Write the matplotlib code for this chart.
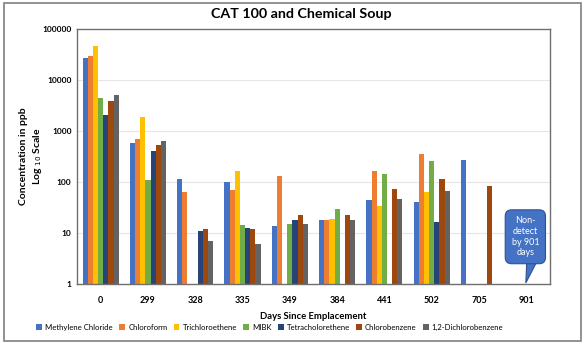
import numpy as np
import matplotlib
matplotlib.use("Agg")
import matplotlib.pyplot as plt
from matplotlib.patches import Rectangle, Polygon

plt.rcParams['font.family'] = ['Lato', 'DejaVu Sans']

nan = np.nan
days = ['0', '299', '328', '335', '349', '384', '441', '502', '705', '901']
series = ['Methylene Chloride', 'Chloroform', 'Trichloroethene', 'MIBK',
          'Tetracholorethene', 'Chlorobenzene', '1,2-Dichlorobenzene']
methylene = [26600, 580, 116, 100, 13.8, 17.6, 44, 41, 270, nan]
chloroform = [29600, 690, 64, 68, 133, 17.6, 163, 360, nan, nan]
tce = [45700, 1850, nan, 165, nan, 18.5, 34, 63, nan, nan]
mibk = [4400, 107, nan, 14.2, 14.8, 29, 145, 255, nan, nan]
pce = [2100, 400, 11, 12.7, 17.9, nan, nan, 16.7, nan, nan]
chlorobenzene = [3900, 525, 11.8, 11.8, 22, 22, 74, 112, 85, nan]
dcb = [5150, 630, 6.8, 6.2, 15, 18, 46, 66, nan, nan]
values = [methylene, chloroform, tce, mibk, pce, chlorobenzene, dcb]
colors = ['#4472C4', '#ED7D31', '#FFC000', '#70AD47', '#264478', '#9E480E', '#636363']

fig = plt.figure(figsize=(5.85, 3.45), dpi=100)
ax = fig.add_axes([0.1316, 0.177, 0.8085, 0.739])

x = np.arange(len(days))
w = 0.109
for i, (name, vals) in enumerate(zip(series, values)):
    ax.bar(x + (i - 3) * w, vals, w, color=colors[i], label=name, zorder=2)

ax.set_yscale('log')
ax.set_ylim(1, 100000)
ax.set_xlim(-0.5, len(days) - 0.5)
ax.set_yticks([1, 10, 100, 1000, 10000, 100000])
ax.set_yticklabels(['1', '10', '100', '1000', '10000', '100000'], fontsize=6, fontweight='bold')
ax.minorticks_off()
ax.set_xticks(x)
ax.set_xticklabels(days, fontsize=6.5, fontweight='bold')
ax.tick_params(length=0, pad=4)
ax.tick_params(axis='x', pad=9)
ax.grid(axis='y', color='#e6e6e6', lw=0.8, zorder=0)
for s in ax.spines.values():
    s.set_color('#6f6f6f')
    s.set_linewidth(1)

ax.set_xlabel('Days Since Emplacement', fontsize=6.8, fontweight='bold', labelpad=5)
ax.set_ylabel('Concentration in ppb\nLog $_{10}$ Scale', fontsize=7.5, fontweight='bold',
              labelpad=-1, linespacing=1.3)
fig.suptitle('CAT 100 and Chemical Soup', fontsize=10.3, fontweight='bold', y=0.978, x=0.515)

ax.legend(loc='upper center', bbox_to_anchor=(0.408, -0.143), ncol=7, frameon=False,
          fontsize=5.6, handlelength=0.75, handleheight=0.75, handletextpad=0.4,
          columnspacing=0.8, borderaxespad=0)

# callout for the 901 day group
ax.add_patch(Polygon([(0.951, 0.09), (0.973, 0.09), (0.949, 0.004)], closed=True,
                     transform=ax.transAxes, fc='#4472C4', ec='#2F528F', lw=0.8,
                     zorder=4, clip_on=False))
ax.text(0.948, 0.185, 'Non-\ndetect\nby 901\ndays', transform=ax.transAxes,
        ha='center', va='center', color='white', fontsize=6.5, linespacing=1.25, zorder=5,
        bbox=dict(boxstyle='round,pad=0.7,rounding_size=0.7', fc='#4472C4', ec='#2F528F', lw=0.8))

fig.patches.append(Rectangle((0.006, 0.012), 0.988, 0.978, transform=fig.transFigure,
                             fill=False, ec='#7f7f7f', lw=1.2))

fig.savefig('out.png', dpi=100)
